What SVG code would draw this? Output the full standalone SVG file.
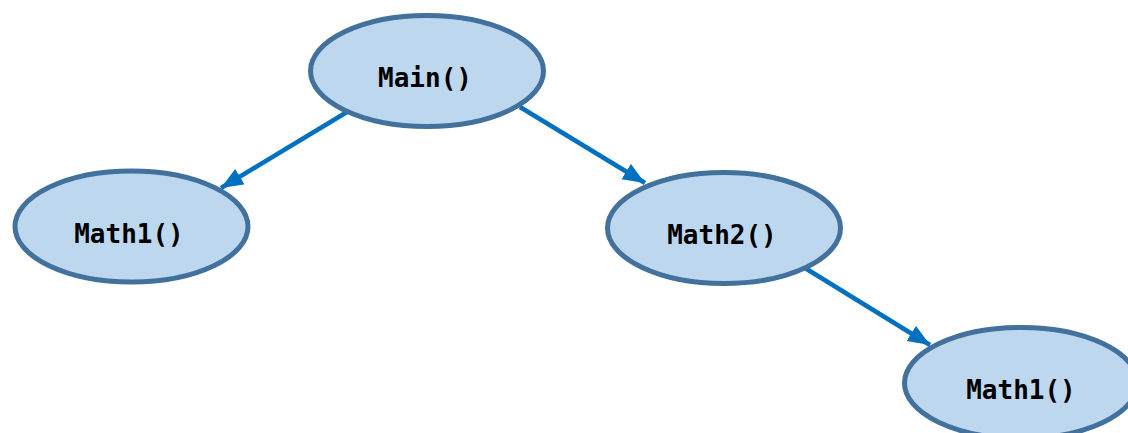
<svg xmlns="http://www.w3.org/2000/svg" width="1128" height="433" viewBox="0 0 1128 433">
<style>
.node ellipse{fill:#BDD7EE;stroke:#41719C;stroke-width:5}
.node text{font-family:"DejaVu Sans Mono","Liberation Mono",monospace;font-weight:bold;font-size:26px;fill:#000;text-anchor:middle}
.edge{stroke:#0070C0;stroke-width:4.5;fill:none;marker-end:url(#ah)}
</style>
<defs>
<marker id="ah" markerUnits="userSpaceOnUse" markerWidth="24" markerHeight="20" refX="22" refY="9" orient="auto">
<path d="M0,0 L22,9 L0,18 Z" fill="#0070C0"/>
</marker>
</defs>
<rect width="1128" height="433" fill="#fff"/>
<g id="connectors">
<line class="edge" x1="347" y1="112" x2="221" y2="188"/>
<line class="edge" x1="520" y1="107" x2="645" y2="183"/>
<line class="edge" x1="805" y1="268" x2="930" y2="345"/>
</g>
<g id="main" class="node">
<ellipse cx="427" cy="71" rx="116.5" ry="55.5"/>
<text x="425" y="87">Main()</text>
</g>
<g id="math1a" class="node">
<ellipse cx="131.5" cy="226.5" rx="116.5" ry="55.5"/>
<text x="129" y="243">Math1()</text>
</g>
<g id="math2" class="node">
<ellipse cx="724" cy="228" rx="116.5" ry="55.5"/>
<text x="722" y="244">Math2()</text>
</g>
<g id="math1b" class="node">
<ellipse cx="1021" cy="383" rx="116.5" ry="55.5"/>
<text x="1021" y="399">Math1()</text>
</g>
</svg>
